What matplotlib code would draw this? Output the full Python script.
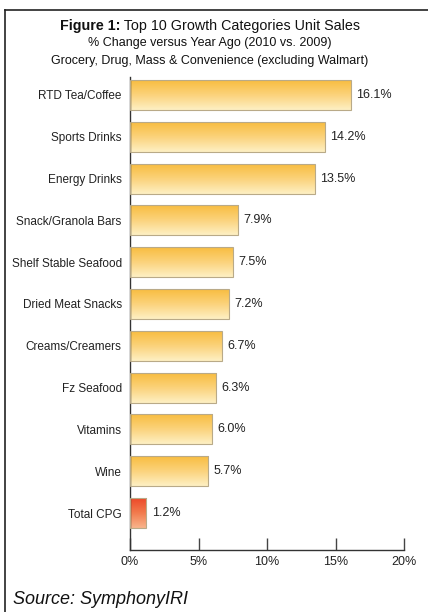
import numpy as np
import matplotlib
matplotlib.use("Agg")
import matplotlib.pyplot as plt
from matplotlib.colors import LinearSegmentedColormap
from matplotlib.lines import Line2D

plt.rcParams['font.family'] = ['Liberation Sans', 'DejaVu Sans']

categories = ["RTD Tea/Coffee", "Sports Drinks", "Energy Drinks", "Snack/Granola Bars",
              "Shelf Stable Seafood", "Dried Meat Snacks", "Creams/Creamers", "Fz Seafood",
              "Vitamins", "Wine", "Total CPG"]
growth = [16.1, 14.2, 13.5, 7.9, 7.5, 7.2, 6.7, 6.3, 6.0, 5.7, 1.2]
xticks = [0, 5, 10, 15, 20]

W, H = 428, 612
fig = plt.figure(figsize=(W / 100, H / 100), dpi=100)
ax = fig.add_axes([130 / W, (H - 550) / H, 274 / W, 473 / H])

# gradient fills: darker at the top of each bar, pale at the bottom
orange = LinearSegmentedColormap.from_list("orange", ["#f8bb3c", "#fbd27a", "#fef0c4"])
red = LinearSegmentedColormap.from_list("red", ["#ec4526", "#f27a4c", "#f9b58c"])
grad = np.linspace(0, 1, 256).reshape(-1, 1)

ypos = np.arange(len(categories))
bars = ax.barh(ypos, growth, height=0.72, facecolor="none",
               edgecolor="#b9aa88", linewidth=0.8, zorder=3)
for i, b in enumerate(bars):
    cmap = red if categories[i] == "Total CPG" else orange
    x0, y0, w, h = b.get_x(), b.get_y(), b.get_width(), b.get_height()
    im = ax.imshow(grad, cmap=cmap, aspect="auto", zorder=2,
                   extent=[x0, x0 + w, y0 + h, y0], interpolation="bicubic")
    im.set_clip_path(b)
    ax.text(x0 + w + 0.4, ypos[i], f"{growth[i]:.1f}%", va="center", ha="left",
            fontsize=9, color="#222222")

ax.set_xlim(0, 20)
ax.set_ylim(10.885, -0.43)
ax.set_yticks(ypos)
ax.set_yticklabels(categories, fontsize=8.5, color="#222222")
ax.tick_params(axis="y", length=0, pad=6)
ax.set_xticks(xticks)
ax.set_xticklabels([f"{t}%" for t in xticks], fontsize=9, color="#222222")
ax.tick_params(axis="x", direction="in", length=9, width=1, color="#444444", pad=4)
for side in ("top", "right"):
    ax.spines[side].set_visible(False)
for side in ("left", "bottom"):
    ax.spines[side].set_color("#333333")
    ax.spines[side].set_linewidth(1)

# heading: bold lead-in followed by regular text, centred as one line
renderer = fig.canvas.get_renderer()
t1 = fig.text(0, 1 - 26 / H, "Figure 1:", fontweight="bold", va="center",
              fontsize=10.3, color="#111111")
t2 = fig.text(0, 1 - 26 / H, " Top 10 Growth Categories Unit Sales", va="center",
              fontsize=10.3, color="#111111")
w1 = t1.get_window_extent(renderer).width / W
w2 = t2.get_window_extent(renderer).width / W
start = 210 / W - (w1 + w2) / 2
t1.set_x(start)
t2.set_x(start + w1)

fig.text(210 / W, 1 - 43 / H, "% Change versus Year Ago (2010 vs. 2009)",
         ha="center", va="center", fontsize=9, color="#111111")
fig.text(210 / W, 1 - 61 / H, "Grocery, Drug, Mass & Convenience (excluding Walmart)",
         ha="center", va="center", fontsize=9, color="#111111")

fig.text(13 / W, 1 - 600 / H, "Source: SymphonyIRI", ha="left", va="center",
         fontsize=13, style="italic", color="#111111")

# box outline along the top and left edges
fig.add_artist(Line2D([5 / W, 1], [1 - 10 / H, 1 - 10 / H], color="#222222", lw=1.2))
fig.add_artist(Line2D([5 / W, 5 / W], [1 - 10 / H, 0], color="#222222", lw=1.2))

fig.savefig("out.png", dpi=100)
